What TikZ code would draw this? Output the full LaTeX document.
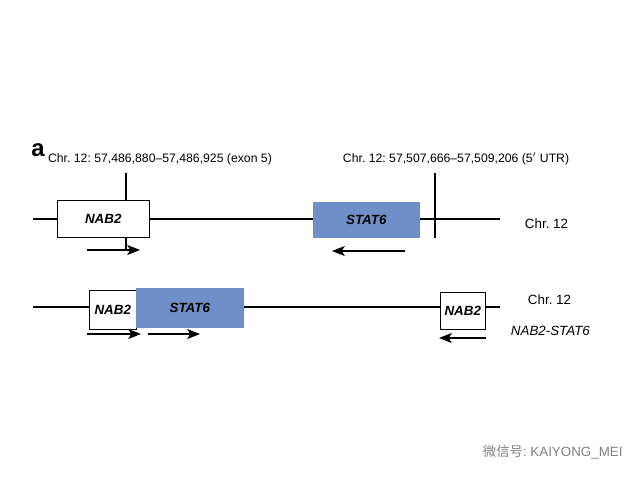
\documentclass[tikz,border=0pt]{standalone}
\usepackage{fontspec}
\usetikzlibrary{arrows.meta}
\setmainfont{Liberation Sans}
\newfontfamily\cjk{Noto Sans CJK SC}
\definecolor{statblue}{HTML}{6F8FC9}
\frenchspacing
\begin{document}
\begin{tikzpicture}[
  x=0.025cm, y=-0.025cm,
  >=latex,
  gene/.style={rectangle, draw, thin, inner sep=0pt, anchor=north west, font=\fontsize{9.5}{11}\selectfont\bfseries\itshape},
  label/.style={font=\fontsize{8.7}{10}\selectfont},
  arrow/.style={-{Stealth[length=9pt,width=7pt,inset=2pt]}, line width=1.3pt},
  chrom/.style={line width=1pt}
]
\useasboundingbox (0,0) rectangle (640,480);

% Panel label
\node[font=\fontsize{17}{17}\selectfont\bfseries] (panel) at (38,150) {a};

% Top chromosome
\coordinate (topL) at (33,219);
\coordinate (topR) at (500,219);
\draw[chrom] (topL) -- (topR);
\node[gene, fill=white, minimum width=92*0.025cm, minimum height=37*0.025cm] (nabA) at (57,200) {NAB2};
\node[gene, draw=statblue, fill=statblue, minimum width=106*0.025cm, minimum height=35*0.025cm] (statA) at (313,202) {STAT6};
\node[label, anchor=south] (bpA) at (160,170) {Chr. 12: 57,486,880--57,486,925 (exon 5)};
\node[label, anchor=south west] (bpB) at (338,170) {Chr. 12: 57,507,666--57,509,206 (5$'$ UTR)};
\node[label, font=\fontsize{9.5}{11}\selectfont, anchor=west] (chrA) at (520,224) {Chr. 12};

% Breakpoints
\coordinate (brkA) at (126,173);
\coordinate (brkAend) at (126,250);
\draw[chrom] (brkA) -- (nabA.north -| brkA);
\draw[chrom] (nabA.south -| brkA) -- (brkAend);
\coordinate (brkB) at (435,173);
\coordinate (brkBend) at (435,238);
\draw[chrom] (brkB) -- (brkBend);

% Primers, top
\coordinate (p1s) at (87,250);
\coordinate (p1e) at (140,250);
\draw[arrow] (p1s) -- (p1e);
\coordinate (p2s) at (405,251);
\coordinate (p2e) at (332,251);
\draw[arrow] (p2s) -- (p2e);

% Fusion chromosome
\coordinate (botL) at (33,307);
\coordinate (botR) at (500,307);
\draw[chrom] (botL) -- (botR);
\node[gene, fill=white, minimum width=47*0.025cm, minimum height=39*0.025cm] (nabB) at (89,290) {NAB2};
\node[gene, draw=statblue, fill=statblue, minimum width=107*0.025cm, minimum height=39*0.025cm] (statB) at (136,288) {STAT6};
\node[gene, fill=white, minimum width=45*0.025cm, minimum height=37*0.025cm] (nabC) at (440,292) {NAB2};
\node[label, font=\fontsize{9.5}{11}\selectfont, anchor=west] (chrB) at (523,300) {Chr. 12};
\node[label, anchor=west, font=\fontsize{9.5}{11}\selectfont\itshape] (fusion) at (506,331) {NAB2-STAT6};

% Primers, fusion
\coordinate (p3s) at (87,334);
\coordinate (p3e) at (141,334);
\draw[arrow] (p3s) -- (p3e);
\coordinate (p4s) at (148,334);
\coordinate (p4e) at (200,334);
\draw[arrow] (p4s) -- (p4e);
\coordinate (p5s) at (486,338);
\coordinate (p5e) at (439,338);
\draw[arrow] (p5s) -- (p5e);

% Watermark
\node[anchor=west, text=gray, font=\fontsize{9.5}{11}\selectfont] (mark) at (478,452) {{\cjk 微信号}: KAIYONG\_MEI};
\end{tikzpicture}
\end{document}
